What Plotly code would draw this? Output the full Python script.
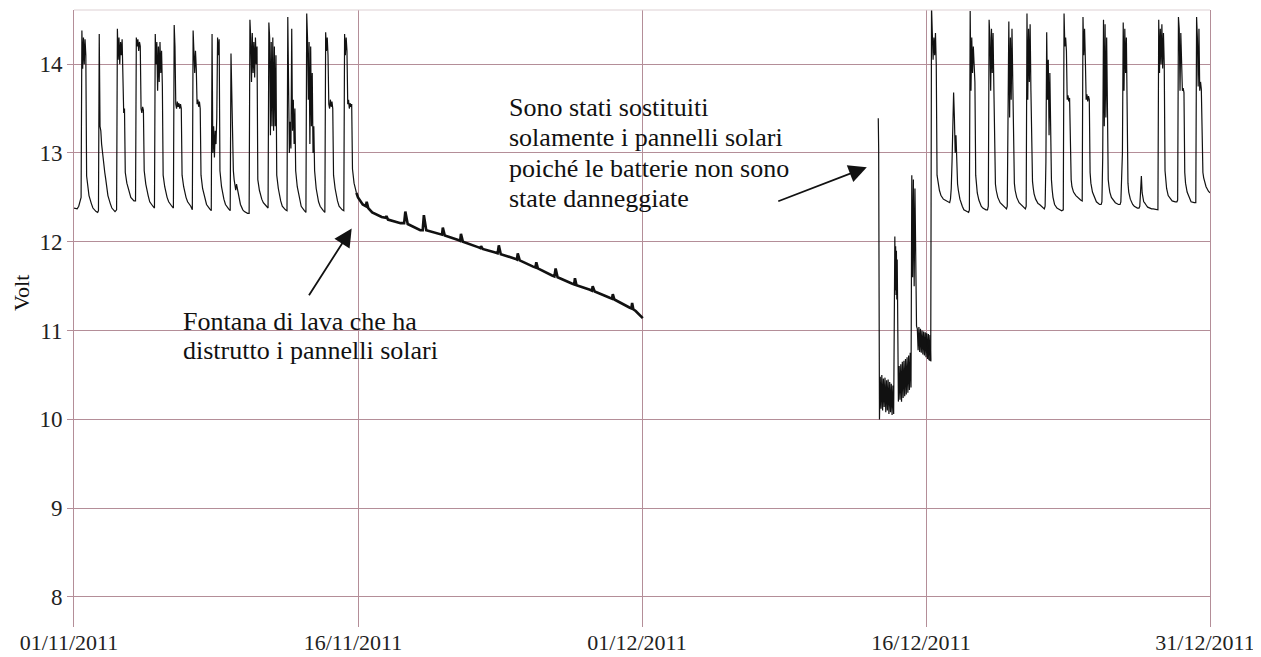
import pandas as pd
import plotly.graph_objects as go

# sample hours used for every "normal" day (charge during daylight, decay at night)
HOURS = [0, 4, 6, 7, 8, 9, 10, 11, 12, 13, 14, 15, 16, 17, 19, 22]

# 01/11 - 15/11, one row per day, volts at HOURS
NOV_START = "2011-11-01"
NOV_ROWS = [
    [12.38, 12.37, 12.40, 12.43, 12.46, 12.50, 14.38, 13.95, 14.30, 14.00, 14.28, 14.10, 12.74, 12.64, 12.52, 12.43],
    [12.38, 12.34, 12.33, 12.35, 14.34, 13.30, 13.25, 13.10, 13.00, 12.92, 12.85, 12.78, 12.72, 12.65, 12.52, 12.43],
    [12.38, 12.34, 12.36, 14.40, 14.05, 14.30, 14.00, 14.25, 14.10, 14.28, 13.95, 13.45, 13.50, 12.78, 12.66, 12.56],
    [12.50, 12.46, 12.46, 14.30, 14.20, 14.28, 14.15, 14.25, 14.20, 13.50, 13.45, 13.52, 13.48, 12.80, 12.65, 12.52],
    [12.45, 12.40, 12.38, 14.34, 14.00, 14.25, 13.70, 14.20, 13.80, 14.25, 13.90, 14.15, 13.75, 12.75, 12.62, 12.50],
    [12.45, 12.40, 12.38, 14.44, 14.20, 13.55, 13.50, 13.58, 13.52, 13.56, 13.50, 13.55, 13.50, 12.75, 12.62, 12.50],
    [12.45, 12.40, 12.36, 14.38, 14.20, 13.90, 14.15, 13.95, 13.55, 13.60, 13.52, 13.58, 13.50, 12.75, 12.60, 12.48],
    [12.42, 12.37, 12.35, 14.34, 13.00, 13.30, 12.95, 13.25, 13.10, 13.40, 14.30, 14.10, 14.28, 12.80, 12.62, 12.48],
    [12.42, 12.37, 12.35, 14.12, 13.60, 12.90, 12.80, 12.70, 12.62, 12.58, 12.65, 12.60, 12.55, 12.50, 12.42, 12.36],
    [12.34, 12.32, 12.32, 14.50, 14.30, 13.80, 14.35, 13.90, 14.25, 13.85, 14.30, 14.00, 14.20, 12.70, 12.58, 12.48],
    [12.44, 12.40, 12.38, 14.47, 14.30, 13.20, 14.25, 13.30, 14.30, 13.25, 14.20, 13.30, 14.10, 12.75, 12.60, 12.46],
    [12.40, 12.36, 12.35, 14.53, 13.30, 13.00, 13.35, 13.05, 14.40, 13.25, 13.60, 13.10, 13.50, 12.80, 12.62, 12.48],
    [12.40, 12.35, 12.33, 14.57, 14.30, 13.60, 14.25, 13.10, 14.20, 13.30, 13.90, 13.00, 13.30, 12.80, 12.60, 12.45],
    [12.40, 12.35, 12.33, 14.36, 14.15, 14.30, 14.10, 13.55, 13.50, 13.60, 13.52, 13.58, 13.50, 12.75, 12.60, 12.46],
    [12.40, 12.36, 12.35, 14.34, 14.10, 14.30, 14.15, 13.55, 13.60, 13.50, 13.56, 13.52, 13.55, 12.82, 12.66, 12.55],
]

# after the lava fountain: batteries only discharging
DISCHARGE_TIMES = [
    "2011-11-16 00:00", "2011-11-16 06:00", "2011-11-16 10:00", "2011-11-16 11:00", "2011-11-16 13:00",
    "2011-11-16 18:00", "2011-11-17 06:00", "2011-11-17 11:00", "2011-11-17 12:00", "2011-11-17 14:00",
    "2011-11-18 06:00", "2011-11-18 10:30", "2011-11-18 12:00", "2011-11-18 15:00",
    "2011-11-19 07:00", "2011-11-19 10:00", "2011-11-19 11:30", "2011-11-19 14:30",
    "2011-11-20 08:00", "2011-11-20 10:30", "2011-11-20 11:30", "2011-11-20 14:00",
    "2011-11-21 07:00", "2011-11-21 09:30", "2011-11-21 10:30", "2011-11-21 13:00",
    "2011-11-22 08:00", "2011-11-22 11:00", "2011-11-22 12:00", "2011-11-22 14:00",
    "2011-11-23 06:00", "2011-11-23 09:00", "2011-11-23 10:30", "2011-11-23 13:00",
    "2011-11-24 07:00", "2011-11-24 09:30", "2011-11-24 10:30", "2011-11-24 13:00",
    "2011-11-25 06:00", "2011-11-25 09:00", "2011-11-25 10:00", "2011-11-25 12:00",
    "2011-11-26 06:00", "2011-11-26 09:00", "2011-11-26 10:30", "2011-11-26 13:00",
    "2011-11-27 07:00", "2011-11-27 10:00", "2011-11-27 11:00", "2011-11-27 13:00",
    "2011-11-28 06:00", "2011-11-28 08:30", "2011-11-28 09:30", "2011-11-28 12:00",
    "2011-11-29 07:00", "2011-11-29 10:00", "2011-11-29 11:00", "2011-11-29 13:00",
    "2011-11-30 08:00", "2011-11-30 10:30", "2011-11-30 11:30", "2011-11-30 13:00",
    "2011-11-30 16:00", "2011-12-01 01:00",
]
DISCHARGE_VOLTS = [
    12.50, 12.42, 12.40, 12.45, 12.38,
    12.33, 12.28, 12.27, 12.29, 12.25,
    12.21, 12.21, 12.34, 12.20,
    12.13, 12.13, 12.30, 12.13,
    12.09, 12.08, 12.16, 12.07,
    12.02, 12.01, 12.09, 12.00,
    11.94, 11.93, 11.95, 11.92,
    11.88, 11.87, 11.96, 11.86,
    11.81, 11.80, 11.87, 11.79,
    11.72, 11.71, 11.77, 11.70,
    11.62, 11.61, 11.70, 11.60,
    11.53, 11.52, 11.59, 11.51,
    11.46, 11.45, 11.50, 11.44,
    11.37, 11.36, 11.41, 11.35,
    11.26, 11.25, 11.31, 11.24,
    11.22, 11.14,
]

# new panels installed, batteries recovering (noisy readings)
OUTAGE_TIMES = [
    "2011-12-13 11:30", "2011-12-13 12:00", "2011-12-13 13:00",
    "2011-12-13 14:00", "2011-12-13 15:00", "2011-12-13 16:00", "2011-12-13 17:00", "2011-12-13 18:00",
    "2011-12-13 19:00", "2011-12-13 20:00", "2011-12-13 21:00", "2011-12-13 22:00", "2011-12-13 23:00",
    "2011-12-14 00:00", "2011-12-14 01:00", "2011-12-14 02:00", "2011-12-14 03:00", "2011-12-14 04:00",
    "2011-12-14 05:00", "2011-12-14 06:00", "2011-12-14 07:00",
    "2011-12-14 08:30", "2011-12-14 09:00", "2011-12-14 09:30", "2011-12-14 10:00", "2011-12-14 10:30",
    "2011-12-14 11:00", "2011-12-14 11:30", "2011-12-14 12:00", "2011-12-14 13:00",
    "2011-12-14 14:00", "2011-12-14 15:00", "2011-12-14 16:00", "2011-12-14 17:00", "2011-12-14 18:00",
    "2011-12-14 19:00", "2011-12-14 20:00", "2011-12-14 21:00", "2011-12-14 22:00", "2011-12-14 23:00",
    "2011-12-15 00:00", "2011-12-15 01:00", "2011-12-15 02:00", "2011-12-15 03:00", "2011-12-15 04:00",
    "2011-12-15 05:00",
    "2011-12-15 06:00", "2011-12-15 07:00", "2011-12-15 08:00", "2011-12-15 09:00", "2011-12-15 10:00",
    "2011-12-15 11:00", "2011-12-15 12:00",
    "2011-12-15 13:00", "2011-12-15 14:00", "2011-12-15 15:00", "2011-12-15 16:00", "2011-12-15 17:00",
    "2011-12-15 18:00", "2011-12-15 19:00", "2011-12-15 20:00", "2011-12-15 21:00", "2011-12-15 22:00",
    "2011-12-15 23:00", "2011-12-16 00:00", "2011-12-16 01:00", "2011-12-16 02:00", "2011-12-16 03:00",
    "2011-12-16 04:00", "2011-12-16 05:00", "2011-12-16 06:00",
]
OUTAGE_VOLTS = [
    13.39, 13.05, 10.00,
    10.48, 10.12, 10.50, 10.10, 10.46,
    10.14, 10.47, 10.08, 10.44, 10.10,
    10.45, 10.06, 10.42, 10.08, 10.40,
    10.05, 10.38, 10.06,
    12.06, 11.45, 11.95, 11.40, 11.90,
    11.35, 11.80, 11.30, 10.20,
    10.60, 10.22, 10.62, 10.20, 10.65,
    10.24, 10.66, 10.26, 10.68, 10.28,
    10.70, 10.30, 10.72, 10.33, 10.75,
    10.36,
    12.75, 11.60, 12.70, 11.50, 12.60,
    11.35, 11.05,
    11.02, 10.78, 11.04, 10.76, 11.02,
    10.75, 11.00, 10.73, 10.99, 10.72,
    10.98, 10.70, 10.97, 10.68, 10.96,
    10.67, 10.95, 10.66,
]

# 16/12 - 30/12, panels working again
DEC_START = "2011-12-16"
DEC_ROWS = [
    [10.97, 10.67, 10.66, 14.65, 14.35, 14.05, 14.30, 14.10, 14.35, 14.00, 12.75, 12.68, 12.62, 12.58, 12.52, 12.48],
    [12.47, 12.45, 12.44, 12.48, 12.60, 12.90, 13.30, 13.68, 13.40, 13.00, 13.20, 12.75, 12.65, 12.58, 12.48, 12.40],
    [12.36, 12.34, 12.33, 12.36, 14.60, 13.70, 14.30, 13.90, 14.20, 14.00, 13.80, 12.75, 12.62, 12.55, 12.47, 12.40],
    [12.38, 12.36, 12.36, 12.40, 14.50, 14.30, 13.70, 14.40, 13.90, 14.35, 13.75, 12.78, 12.65, 12.58, 12.50, 12.44],
    [12.42, 12.38, 12.37, 12.40, 13.20, 14.48, 13.40, 14.30, 13.60, 14.40, 13.80, 12.78, 12.66, 12.58, 12.50, 12.44],
    [12.42, 12.38, 12.37, 12.40, 14.57, 13.60, 14.40, 13.80, 14.45, 13.70, 12.80, 12.68, 12.60, 12.54, 12.48, 12.43],
    [12.42, 12.38, 12.37, 12.40, 12.90, 14.36, 13.60, 14.05, 13.20, 13.90, 12.90, 12.70, 12.58, 12.50, 12.42, 12.38],
    [12.37, 12.35, 12.36, 14.57, 14.20, 14.30, 14.15, 13.60, 13.65, 13.58, 13.62, 12.80, 12.70, 12.62, 12.56, 12.52],
    [12.50, 12.47, 12.46, 14.53, 14.10, 14.40, 14.05, 13.60, 13.66, 13.58, 13.64, 13.60, 12.78, 12.66, 12.56, 12.50],
    [12.45, 12.42, 12.42, 12.45, 12.95, 14.50, 13.30, 14.45, 13.40, 14.30, 12.80, 12.70, 12.62, 12.56, 12.50, 12.46],
    [12.44, 12.42, 12.42, 12.45, 12.90, 13.00, 14.47, 13.70, 14.40, 13.90, 14.30, 12.80, 12.66, 12.56, 12.48, 12.42],
    [12.40, 12.38, 12.38, 12.40, 12.52, 12.74, 12.55, 12.46, 12.45, 12.44, 12.42, 12.41, 12.40, 12.39, 12.38, 12.37],
    [12.37, 12.36, 12.36, 14.50, 13.90, 14.40, 14.00, 14.45, 13.95, 14.35, 14.00, 12.80, 12.68, 12.60, 12.52, 12.48],
    [12.46, 12.45, 12.45, 12.47, 14.53, 14.40, 13.70, 14.35, 13.75, 13.70, 13.73, 13.68, 12.78, 12.66, 12.56, 12.48],
    [12.45, 12.44, 12.44, 14.53, 14.30, 13.75, 14.40, 13.70, 13.80, 13.72, 12.85, 12.78, 12.72, 12.68, 12.62, 12.57],
]
END_TIME = "2011-12-31 00:00"
END_VOLT = 12.55

X_TICKS = ["2011-11-01", "2011-11-16", "2011-12-01", "2011-12-16", "2011-12-31"]
Y_TICKS = [8, 9, 10, 11, 12, 13, 14]

NOTE_LAVA = ["Fontana di lava che ha", "distrutto i pannelli solari"]
NOTE_PANELS = ["Sono stati sostituiti", "solamente i pannelli solari",
               "poiché le batterie non sono", "state danneggiate"]

GRID = "#b48e98"
INK = "#111111"
FONT = "Liberation Serif"


def day_rows(start, rows):
    xs, ys = [], []
    for i, row in enumerate(rows):
        day = pd.Timestamp(start) + pd.Timedelta(days=i)
        for h, v in zip(HOURS, row):
            xs.append(day + pd.Timedelta(hours=h))
            ys.append(v)
    return xs, ys


nov_x, nov_y = day_rows(NOV_START, NOV_ROWS)
dec_x, dec_y = day_rows(DEC_START, DEC_ROWS)
dec_x.append(pd.Timestamp(END_TIME))
dec_y.append(END_VOLT)

dis_x = [nov_x[-1]] + list(pd.to_datetime(DISCHARGE_TIMES))
dis_y = [nov_y[-1]] + DISCHARGE_VOLTS

fig = go.Figure()
fig.add_trace(go.Scatter(x=nov_x, y=nov_y, mode="lines", line=dict(color=INK, width=1.2)))
fig.add_trace(go.Scatter(x=dis_x, y=dis_y, mode="lines", line=dict(color=INK, width=2.6)))
fig.add_trace(go.Scatter(x=pd.to_datetime(OUTAGE_TIMES), y=OUTAGE_VOLTS, mode="lines",
                         line=dict(color=INK, width=1.2)))
fig.add_trace(go.Scatter(x=dec_x, y=dec_y, mode="lines", line=dict(color=INK, width=1.2)))

# the page body has an 8px margin, so the figure sits at (8, 8) in the window
W, H = 1253, 649
OFF = 8
# plot area in window pixels
L, R, T, B = 74, 1210, 10, 627


def px(x):
    return (x - L) / (R - L)


def py(y):
    return (B - y) / (B - T)


# white boxes behind the notes (they hide the grid lines)
for x0, x1, y0, y1 in [(162, 468, 293, 378), (488, 830, 80, 235)]:
    fig.add_shape(type="rect", xref="paper", yref="paper",
                  x0=px(x0), x1=px(x1), y0=py(y1), y1=py(y0),
                  fillcolor="white", line_width=0, layer="between")

# light top border
fig.add_shape(type="line", xref="paper", yref="paper", x0=0, x1=1, y0=1, y1=1,
              line=dict(color="#ddd0d3", width=1))

for i, line in enumerate(NOTE_LAVA):
    fig.add_annotation(text=line, xref="paper", yref="paper", x=px(181), y=py(322 + 28.5 * i),
                       xanchor="left", yanchor="middle", showarrow=False,
                       font=dict(family=FONT, size=26, color=INK))
for i, line in enumerate(NOTE_PANELS):
    fig.add_annotation(text=line, xref="paper", yref="paper", x=px(507), y=py(107 + 30.5 * i),
                       xanchor="left", yanchor="middle", showarrow=False,
                       font=dict(family=FONT, size=26, color=INK))

# arrows
fig.add_annotation(x="2011-11-15 16:00", y=12.15, ax="2011-11-13 08:40", ay=11.38,
                   xref="x", yref="y", axref="x", ayref="y", text="", showarrow=True,
                   arrowhead=2, arrowsize=2, arrowwidth=1.8, arrowcolor=INK)
fig.add_annotation(x="2011-12-12 21:00", y=12.84, ax="2011-12-08 02:50", ay=12.45,
                   xref="x", yref="y", axref="x", ayref="y", text="", showarrow=True,
                   arrowhead=2, arrowsize=2, arrowwidth=1.8, arrowcolor=INK)

fig.add_annotation(text="Volt", xref="paper", yref="paper", x=px(21), y=py(293),
                   xanchor="center", yanchor="middle",
                   textangle=-90, showarrow=False, font=dict(family=FONT, size=22, color=INK))

fig.update_layout(
    template="none",
    width=W, height=H,
    margin=dict(l=L - OFF, r=W - (R - OFF), t=T - OFF, b=H - (B - OFF)),
    showlegend=False,
    plot_bgcolor="white",
    paper_bgcolor="white",
    font=dict(family=FONT, size=23, color="#222222"),
    xaxis=dict(type="date", range=["2011-11-01", "2011-12-31"], tickvals=X_TICKS,
               tickformat="%d/%m/%Y", tickfont=dict(size=22), ticklabelshift=-5,
               ticklabeloverflow="allow",
               showgrid=True, gridcolor=GRID, gridwidth=1,
               zeroline=False, showline=False, ticks="", automargin=False),
    yaxis=dict(range=[7.662, 14.61], tickvals=Y_TICKS, showgrid=True, gridcolor=GRID,
               gridwidth=1, zeroline=False, showline=True, mirror=True, linecolor=GRID,
               linewidth=1, ticks="outside", ticklen=6, tickcolor=GRID, automargin=False),
)

fig.write_html("out.html")
